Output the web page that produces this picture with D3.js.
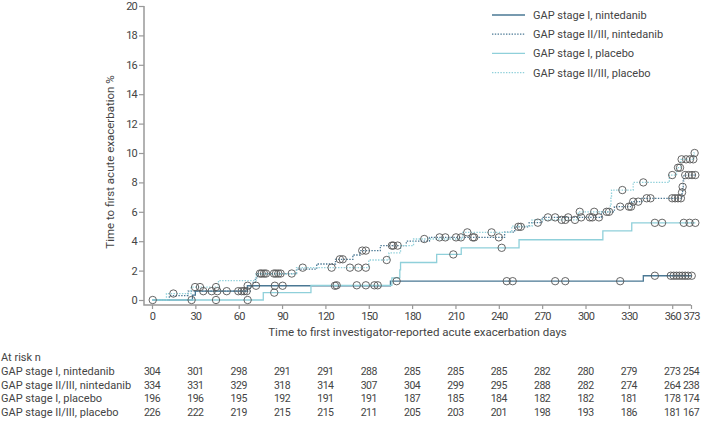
<!DOCTYPE html>
<html>
<head>
<meta charset="utf-8">
<script src="https://cdn.jsdelivr.net/npm/d3@7"></script>
<style>
  body { margin: 0; background: #fff; }
  svg text { font-family: Roboto, "Noto Sans", sans-serif; fill: #444; }
  .num { letter-spacing: -0.5px; }
  .tick text { letter-spacing: -0.8px; }
</style>
</head>
<body>
<div class="chart"></div>
<script>
// series names (legend + at risk table)
var seriesNames = ["GAP stage I, nintedanib", "GAP stage II/III, nintedanib", "GAP stage I, placebo", "GAP stage II/III, placebo"];

// step points [day, cumulative %]
var ninStageI = [[0,0],[28,0.33],[30,0.6],[66,0.97],[165,1.28],[340,1.65]];
var ninStageII = [[0,0],[12,0.3],[25,0.6],[68,0.9],[70,1.2],[71.5,1.5],[73,1.8],[100,2.1],[114,2.45],[127,2.77],[139,3.06],[144,3.36],[158,3.7],[176,4.0],[192,4.26],[244,4.62],[251,4.98],[261,5.26],[270,5.62],[311,6.0],[320,6.35],[332,6.69],[339,6.92],[366.8,7.32],[367.2,7.7],[367.6,8.1],[368,8.5]];
var plaStageI = [[0,0],[77,0.5],[110,1.0],[166,1.5],[171.5,2.05],[172,2.55],[197,3.1],[214,3.55],[254,4.1],[312,4.7],[332,5.25]];
var plaStageII = [[0,0],[10,0.44],[27,0.88],[46,1.32],[72,1.77],[100,2.2],[150,2.72],[164,3.2],[172,3.7],[181,4.15],[215,4.6],[249,5.02],[263,5.45],[295,6.0],[317.2,6.5],[317.6,7.0],[318,7.48],[333,8.0],[358,8.5],[363,9.0],[366,9.57],[375,10.0]];

// censored days (circles)
var ninStageICens = [0.5,66.2,72,85,90.4,126.6,169.3,245.5,249.6,279,286,324,348,359,361,363,365,367,369,371,373.5];
var ninStageIICens = [35.5,41.3,45.2,51.7,59.7,62,63.7,65.5,74.7,75.9,77.5,78.9,84.4,85.8,87.4,89,96.7,130,132,145.5,148,166,167,170,199,203,210.4,213.8,222,223,240,253.5,255.2,267,274,279,288,297,303,304.7,309.3,324,330,331.5,333,336.5,342.3,345,360,362,364,366,366.8,367.2,369,371.4,373.7,376];
var plaStageICens = [27.4,44.3,66.2,84.6,127.8,141.7,148,153.9,156.2,208.5,242,348,353,368,372,376];
var plaStageIICens = [14.8,29.8,33.2,44.3,104.3,124.3,137,142.8,148,162.4,188.4,218.2,235,283.5,286,292.7,296,306,314.6,316.3,325.5,340,360,364,365.4,366.5,369.6,372.3,374.6,375.5];

// axis ticks
var xTicks = [0,30,60,90,120,150,180,210,240,270,300,330,360,373];
var yTicks = [0,2,4,6,8,10,12,14,16,18,20];

// at risk numbers, one column per x tick
var riskNinI = [304,301,298,291,291,288,285,285,285,282,280,279,273,254];
var riskNinII = [334,331,329,318,314,307,304,299,295,288,282,274,264,238];
var riskPlaI = [196,196,195,192,191,191,187,185,184,182,182,181,178,174];
var riskPlaII = [226,222,219,215,215,211,205,203,201,198,193,186,181,167];

var darkBlue = "#4a7894", lightBlue = "#8fd0da";
var series = [
    {name: seriesNames[0], steps: ninStageI, cens: ninStageICens, color: darkBlue, dash: null},
    {name: seriesNames[1], steps: ninStageII, cens: ninStageIICens, color: darkBlue, dash: "1.4,1.4"},
    {name: seriesNames[2], steps: plaStageI, cens: plaStageICens, color: lightBlue, dash: null},
    {name: seriesNames[3], steps: plaStageII, cens: plaStageIICens, color: lightBlue, dash: "1.4,1.4"}
];
var riskRows = [riskNinI, riskNinII, riskPlaI, riskPlaII];

var width = 707, height = 440;
var svg = d3.select(".chart").append("svg")
    .attr("width", width)
    .attr("height", height);

var x = d3.scaleLinear().domain([0, 373]).range([152, 691]);
var y = d3.scaleLinear().domain([0, 20]).range([300, 6]);
var axisX = 144, axisY = 305;

// value of a step curve at a given day
function valueAt(steps, day) {
    var v = 0;
    steps.forEach(function(s) { if (s[0] <= day) v = s[1]; });
    return v;
}

// axes
var yAxis = svg.append("g")
    .attr("transform", "translate(" + axisX + ",0)")
    .call(d3.axisLeft(y).tickValues(yTicks).tickSize(5).tickSizeOuter(0));
yAxis.select(".domain").remove();
var xAxis = svg.append("g")
    .attr("transform", "translate(0," + axisY + ")")
    .call(d3.axisBottom(x).tickValues(xTicks).tickSize(4).tickSizeOuter(0));
xAxis.select(".domain").remove();
svg.selectAll(".tick line").attr("stroke", "#999").attr("stroke-width", 1.2);
svg.selectAll(".tick text")
    .style("font-size", "11px")
    .attr("fill", "#444");
yAxis.selectAll(".tick text").attr("x", -7);
xAxis.selectAll(".tick text").attr("y", 7);

svg.append("path")
    .attr("d", "M" + axisX + "," + y(20) + "V" + axisY + "H" + x(373))
    .attr("fill", "none")
    .attr("stroke", "#999")
    .attr("stroke-width", 1.5);

// axis titles
svg.append("text")
    .attr("x", (axisX + x(373)) / 2)
    .attr("y", 336)
    .attr("text-anchor", "middle")
    .style("font-size", "11.5px")
    .text("Time to first investigator-reported acute exacerbation days");
svg.append("text")
    .attr("transform", "translate(114," + 162 + ") rotate(-90)")
    .attr("text-anchor", "middle")
    .style("font-size", "11.5px")
    .text("Time to first acute exacerbation %");

// step curves
var line = d3.line()
    .x(function(d) { return x(d[0]); })
    .y(function(d) { return y(d[1]); })
    .curve(d3.curveStepAfter);

series.forEach(function(s) {
    var lastDay = d3.max(s.cens);
    var pts = s.steps.concat([[lastDay, s.steps[s.steps.length - 1][1]]]);
    svg.append("path")
        .attr("d", line(pts))
        .attr("fill", "none")
        .attr("stroke", s.color)
        .attr("stroke-width", 1.3)
        .attr("stroke-dasharray", s.dash);
});

// censor circles on top
series.forEach(function(s) {
    svg.append("g").selectAll("circle")
        .data(s.cens)
        .enter().append("circle")
        .attr("cx", function(d) { return x(d); })
        .attr("cy", function(d) { return y(valueAt(s.steps, d)); })
        .attr("r", 3.7)
        .attr("fill", "none")
        .attr("stroke", "#555")
        .attr("stroke-width", 0.9);
});

// legend
var legend = svg.append("g");
series.forEach(function(s, i) {
    var ly = 15 + i * 19.2;
    legend.append("line")
        .attr("x1", 492).attr("x2", 525)
        .attr("y1", ly).attr("y2", ly)
        .attr("stroke", s.color)
        .attr("stroke-width", 1.3)
        .attr("stroke-dasharray", s.dash);
    legend.append("text")
        .attr("x", 533)
        .attr("y", ly + 4)
        .style("font-size", "11px")
        .text(s.name);
});

// at risk table
svg.append("text")
    .attr("x", 1).attr("y", 361)
    .style("font-size", "11px")
    .text("At risk n");
riskRows.forEach(function(row, i) {
    var ry = 375 + i * 13.7;
    svg.append("text")
        .attr("x", 1).attr("y", ry)
        .style("font-size", "11px")
        .text(seriesNames[i]);
    svg.append("g").selectAll("text")
        .data(row)
        .enter().append("text")
        .attr("class", "num")
        .attr("x", function(d, j) { return x(xTicks[j]); })
        .attr("y", ry)
        .attr("text-anchor", "middle")
        .style("font-size", "10.5px")
        .text(function(d) { return d; });
});
</script>
</body>
</html>
